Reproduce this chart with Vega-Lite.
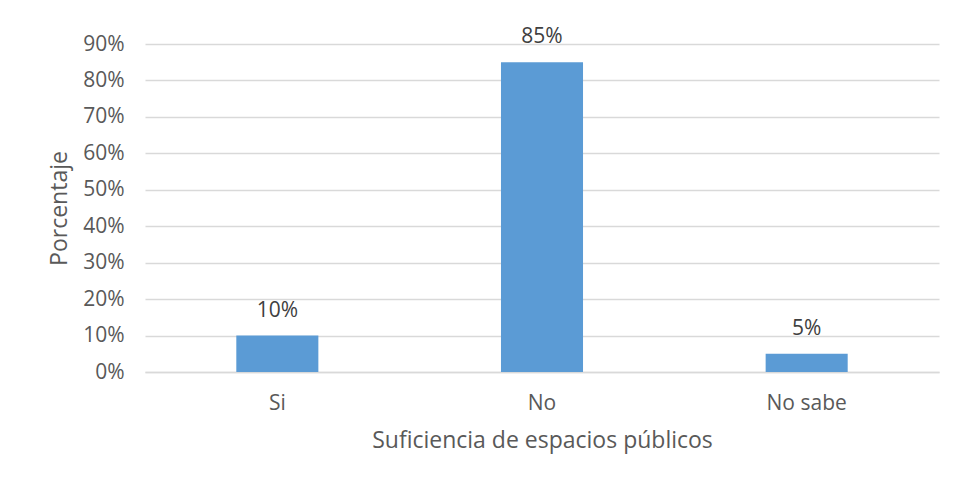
{
  "$schema": "https://vega.github.io/schema/vega-lite/v6.json",
  "autosize": "none",
  "width": 794,
  "height": 328,
  "padding": {"left": 145, "top": 44, "right": 16, "bottom": 109},
  "background": "white",
  "config": {
    "view": {"stroke": null},
    "font": "Open Sans",
    "axis": {"labelFont": "Open Sans", "titleFont": "Open Sans", "labelColor": "#595959", "titleColor": "#595959", "titleFontWeight": "normal"}
  },
  "data": {"values": [
    {"cat": "Si", "pct": 0.10},
    {"cat": "No", "pct": 0.85},
    {"cat": "No sabe", "pct": 0.05}
  ]},
  "encoding": {
    "x": {"field": "cat", "type": "nominal", "sort": null,
      "scale": {"paddingInner": 0.69, "paddingOuter": 0.345},
      "axis": {"title": "Suficiencia de espacios públicos", "labelAngle": 0, "labelFontSize": 21, "titleFontSize": 23, "labelPadding": 20, "titlePadding": 16, "ticks": false, "domain": true, "domainColor": "#D9D9D9", "domainWidth": 1.3}},
    "y": {"field": "pct", "type": "quantitative",
      "scale": {"domain": [0, 0.9], "nice": false},
      "axis": {"title": "Porcentaje", "format": ".0%", "values": [0, 0.1, 0.2, 0.3, 0.4, 0.5, 0.6, 0.7, 0.8, 0.9], "labelFontSize": 21, "titleFontSize": 23, "labelPadding": 21, "titlePadding": 11, "ticks": false, "domain": false, "gridColor": "#D9D9D9", "gridWidth": 1.3}}
  },
  "layer": [
    {"mark": {"type": "bar", "color": "#5B9BD5"}},
    {"mark": {"type": "text", "fontSize": 21, "color": "#404040", "baseline": "alphabetic", "dy": -19},
      "encoding": {"text": {"field": "pct", "type": "quantitative", "format": ".0%"}}}
  ]
}
